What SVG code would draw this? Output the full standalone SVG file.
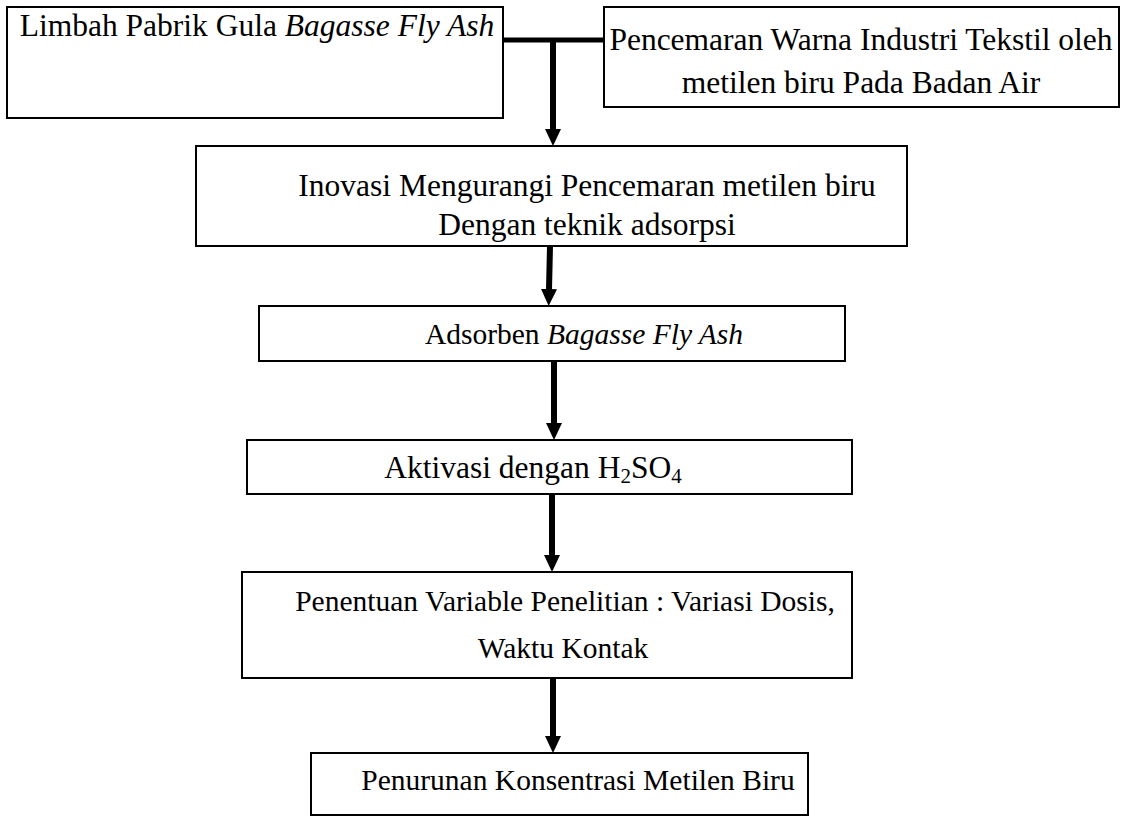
<svg xmlns="http://www.w3.org/2000/svg" width="1131" height="816" viewBox="0 0 1131 816">
<style>
.box{fill:#fff;stroke:#000;stroke-width:2}
.t{font-family:"Liberation Serif","Times New Roman",serif;font-size:31.5px;fill:#000;text-anchor:middle}
.s{font-size:29.5px}
.i{font-style:italic}
.ln{stroke:#000;stroke-width:6;fill:none}
</style>
<defs>
<marker id="ah" markerUnits="userSpaceOnUse" markerWidth="18" markerHeight="18" refX="1" refY="8" orient="auto">
<path d="M0,0 L17,8 L0,16 Z" fill="#000"/>
</marker>
</defs>
<rect width="1131" height="816" fill="#fff"/>
<g id="connectors">
<line x1="503" y1="40" x2="604" y2="40" stroke="#000" stroke-width="5"/>
<line class="ln" x1="553" y1="40" x2="553" y2="130" marker-end="url(#ah)"/>
<line class="ln" x1="550" y1="246" x2="549" y2="290" marker-end="url(#ah)"/>
<line class="ln" x1="554" y1="361" x2="554" y2="424" marker-end="url(#ah)"/>
<line class="ln" x1="552" y1="494" x2="552" y2="556" marker-end="url(#ah)"/>
<line class="ln" x1="553" y1="678" x2="553" y2="737" marker-end="url(#ah)"/>
</g>
<g id="n1">
<rect class="box" x="7" y="7" width="496" height="111"/>
<text class="t" x="257" y="36">Limbah Pabrik Gula <tspan class="i">Bagasse Fly Ash</tspan></text>
</g>
<g id="n2">
<rect class="box" x="604" y="7" width="515" height="100"/>
<text class="t" x="861" y="50">Pencemaran Warna Industri Tekstil oleh</text>
<text class="t" x="861" y="93">metilen biru Pada Badan Air</text>
</g>
<g id="n3">
<rect class="box" x="196" y="146" width="711" height="100"/>
<text class="t" x="587" y="196">Inovasi Mengurangi Pencemaran metilen biru</text>
<text class="t" x="587" y="235">Dengan teknik adsorpsi</text>
</g>
<g id="n4">
<rect class="box" x="259" y="306" width="586" height="55"/>
<text class="t s" x="584" y="344">Adsorben <tspan class="i">Bagasse Fly Ash</tspan></text>
</g>
<g id="n5">
<rect class="box" x="247" y="440" width="605" height="54"/>
<text class="t" x="533" y="478">Aktivasi dengan H<tspan font-size="21" dy="5">2</tspan><tspan dy="-5">SO</tspan><tspan font-size="21" dy="5">4</tspan></text>
</g>
<g id="n6">
<rect class="box" x="242" y="572" width="610" height="106"/>
<text class="t s" x="565" y="611">Penentuan Variable Penelitian : Variasi Dosis,</text>
<text class="t s" x="563" y="658">Waktu Kontak</text>
</g>
<g id="n7">
<rect class="box" x="311" y="753" width="497" height="62"/>
<text class="t s" x="578" y="790">Penurunan Konsentrasi Metilen Biru</text>
</g>
</svg>
